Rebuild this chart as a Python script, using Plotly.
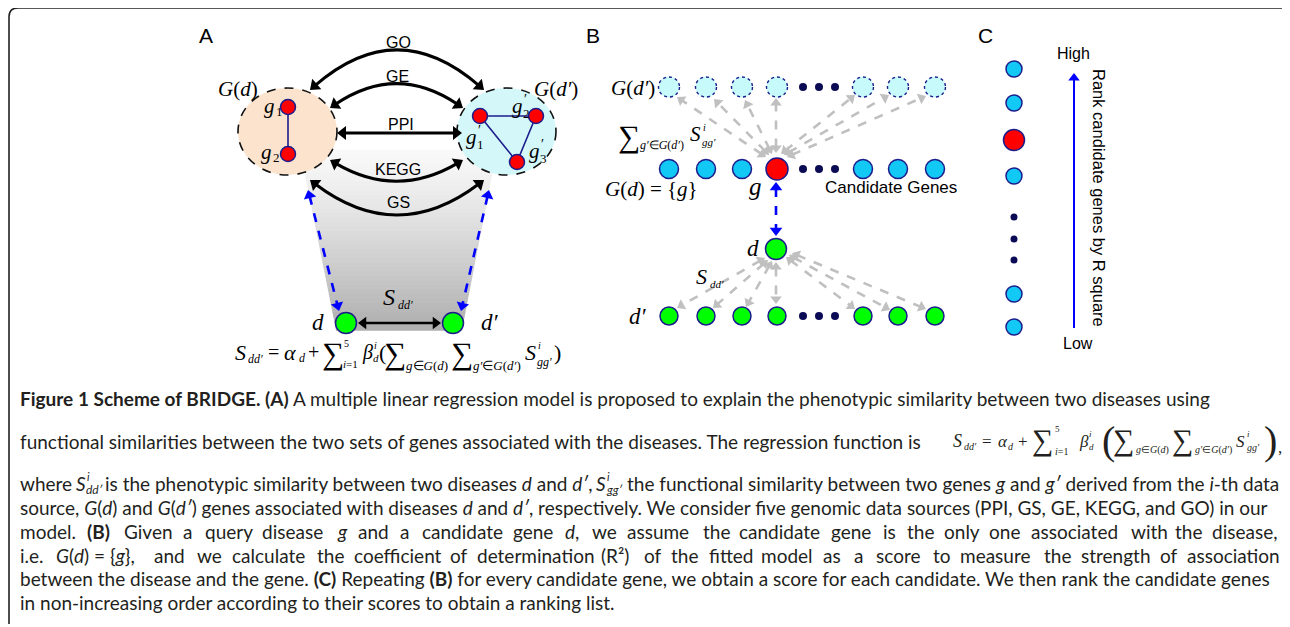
import math
import re
import plotly.graph_objects as go

# ---------------- content / data ----------------
panel_labels = ["A", "B", "C"]
data_sources = ["GO", "GE", "PPI", "KEGG", "GS"]
genes_d = ["1", "2"]          # g1, g2 in G(d)
genes_dp = ["1", "2", "3"]    # g'1, g'2, g'3 in G(d')
edges_d = [(0, 1)]
edges_dp = [(0, 1), (1, 2), (2, 0)]
# panel B: 7 drawn genes per row with a gap of three dots; index 3 of the middle row is the query gene g
row_kind = ["gene", "gene", "gene", "gene", "dot", "dot", "dot", "gene", "gene", "gene"]
query_index = 3
# panel C ranking list (top to bottom)
rank_kind = ["gene", "gene", "query", "gene", "dot", "dot", "dot", "gene", "gene"]
rank_ends = ["High", "Low"]
rank_title = "Rank candidate genes by R square"

cap_line1 = "<b>Figure 1 Scheme of BRIDGE. (A)</b> A multiple linear regression model is proposed to explain the phenotypic similarity between two diseases using"
cap_line2 = "functional similarities between the two sets of genes associated with the diseases. The regression function is"
cap_line3 = ["where", "is the phenotypic similarity between two diseases <i>d</i> and <i>d′</i>,",
             "the functional similarity between two genes <i>g</i> and <i>g′</i> derived from the <i>i</i>-th data"]
cap_line4 = "source, <i>G</i>(<i>d</i>) and <i>G</i>(<i>d′</i>) genes associated with diseases <i>d</i> and <i>d′</i>, respectively. We consider five genomic data sources (PPI, GS, GE, KEGG, and GO) in our"
cap_line5 = ["model.", "<b>(B)</b>", "Given", "a", "query", "disease", "<i>g</i>", "and", "a", "candidate", "gene",
             "<i>d</i>,", "we", "assume", "the", "candidate", "gene", "is", "the", "only", "one", "associated",
             "with", "the", "disease,"]
cap_line6 = ["i.e.", "<i>G</i>(<i>d</i>) = {<i>g</i>},", "and", "we", "calculate", "the", "coefficient", "of",
             "determination", "(R²)", "of", "the", "fitted", "model", "as", "a", "score", "to", "measure", "the",
             "strength", "of", "association"]
cap_line7 = "between the disease and the gene. <b>(C)</b> Repeating <b>(B)</b> for every candidate gene, we obtain a score for each candidate. We then rank the candidate genes"
cap_line8 = "in non-increasing order according to their scores to obtain a ranking list."

# ---------------- layout geometry (pixel space) ----------------
W, H = 1290, 627
OFF = 8  # page body margin compensation
SERIF = "Liberation Serif, Times New Roman, serif"
SANS = "Liberation Sans, Arial, sans-serif"
CAPF = "Lato, Liberation Sans, sans-serif"
CAPC = "#231f20"
NAVY = "#1c1c8c"
DOT = "#0a0a55"
RED = "#ff0000"
GREEN = "#00ff00"
CYAN = "#12c8f5"
LCYAN = "#c6fafb"
GRAY = "#c0c0c0"
BLUE = "#0000ff"

panel_label_pos = [(206, 35), (593, 35), (985, 35)]
arc_lx = [310, 330, 337, 330, 310]
arc_rx = [484, 463, 462, 463, 484]
arc_ey = [90, 108, 133, 160, 180]
arc_cy = [14, 63, 133, 199, 246]
arc_ly = [42, 76, 124, 169, 202]
ell_d = (238, 88, 337, 175)
ell_dp = (457, 88, 556, 175)
gd_xy = [(288, 107), (288, 154)]
gdp_xy = [(480, 116), (536, 116), (517, 162)]
gd_lab = [(262, 106), (259, 152)]
gdp_lab = [(464, 137), (510, 106), (527, 151)]
dnodes = [(346, 323), (453, 323)]
col_x = [669, 706, 742, 777, 803, 819, 835, 863, 898, 935]
row_y = [87, 169, 316]
d_B = (776, 249)
rank_x = 1014
rank_y = [69, 103, 140, 176, 217, 239, 260, 294, 327]

fig = go.Figure()
shapes = []
ann = []
heads = {}


def text(x, y, s, size=16, family=SANS, xanchor="center", yanchor="middle", color="black", angle=0):
    ann.append(dict(x=x, y=y, xref="x", yref="y", text=s, showarrow=False,
                    font=dict(size=size, family=family, color=color),
                    xanchor=xanchor, yanchor=yanchor, textangle=angle))


def head(tip, toward, color, size):
    dx, dy = tip[0] - toward[0], tip[1] - toward[1]
    n = math.hypot(dx, dy)
    ux, uy = dx / n, dy / n
    r = size / 2
    lst = heads.setdefault((color, size), ([], [], []))
    lst[0].append(tip[0] - ux * r)
    lst[1].append(tip[1] - uy * r)
    lst[2].append(math.degrees(math.atan2(ux, -uy)))
    return (tip[0] - ux * size * 0.55, tip[1] - uy * size * 0.55)


def line(p0, p1, color, width, dash="solid"):
    shapes.append(dict(type="line", xref="x", yref="y", x0=p0[0], y0=p0[1], x1=p1[0], y1=p1[1],
                       line=dict(color=color, width=width, dash=dash), layer="below"))


def double_arrow(p0, p1, color, width, dash="solid", size=11):
    a = head(p0, p1, color, size)
    b = head(p1, p0, color, size)
    line(a, b, color, width, dash)


# approximate relative glyph advances (per 1000 em) used to spread words of justified lines
AW = {' ': 278, 'f': 278, 'i': 222, 'j': 222, 'l': 222, 't': 278, 'r': 333, '.': 278, ',': 278,
      '(': 333, ')': 333, '{': 334, '}': 334, 'm': 833, 'w': 722, 'c': 500, 'k': 500, 's': 500,
      'v': 500, 'x': 500, 'y': 500, 'z': 500, '=': 584, 'B': 667, 'G': 778, 'R': 722, '²': 333}


def est(s):
    t = re.sub(r"<[^>]+>", "", s)
    w = sum(AW.get(ch, 556) for ch in t)
    return w * (1.06 if "<b>" in s else 1.0)


def justified(tokens, y, natural, x0=18, x1=1278, size=19):
    ests = [est(t) for t in tokens]
    total = sum(ests) + AW[' '] * (len(tokens) - 1)
    k = natural / total
    extra = ((x1 - x0) - natural) / (len(tokens) - 1)
    x = x0
    for t, e in zip(tokens, ests):
        text(x, y, t, size, CAPF, xanchor="left", color=CAPC)
        x += (e + AW[' ']) * k + extra


# ---------------- border ----------------
shapes.append(dict(type="path", xref="x", yref="y", path="M 9,624 L 9,17 Q 9,8 18,8 L 1296,8",
                   line=dict(color="#222222", width=1.6), layer="above"))

# ---------------- panel A ----------------
top_y, bot_y = 150, 330
tl, tr, bl, br = 300, 497, 336, 462
nb = 40
for i in range(nb):
    f0 = i / nb
    f1 = (i + 1) / nb
    y0 = top_y + (bot_y - top_y) * f0
    y1 = top_y + (bot_y - top_y) * f1 + 0.8
    f1e = min(f1 + 0.005, 1)
    x0l, x0r = tl + (bl - tl) * f0, tr + (br - tr) * f0
    x1l, x1r = tl + (bl - tl) * f1e, tr + (br - tr) * f1e
    fm = (f0 + f1) / 2
    g = int(250 - (250 - 174) * fm ** 1.2)
    shapes.append(dict(type="path", xref="x", yref="y", layer="below",
                       path=f"M {x0l},{y0} L {x0r},{y0} L {x1r},{y1} L {x1l},{y1} Z",
                       fillcolor=f"rgb({g},{g},{g})", line=dict(width=0)))

for (x0, y0, x1, y1), fc in [(ell_d, "#fbe3cd"), (ell_dp, "#d4f7f9")]:
    shapes.append(dict(type="circle", xref="x", yref="y", x0=x0, y0=y0, x1=x1, y1=y1,
                       fillcolor=fc, line=dict(color="#111111", width=1.6, dash="dash"), layer="below"))

for name, lx, rx, ey, cy, ly in zip(data_sources, arc_lx, arc_rx, arc_ey, arc_cy, arc_ly):
    cx = (lx + rx) / 2
    if cy == ey:
        double_arrow((lx, ey), (rx, ey), "black", 3, size=12)
    else:
        a = head((lx, ey), (cx, cy), "black", 12)
        b = head((rx, ey), (cx, cy), "black", 12)
        shapes.append(dict(type="path", xref="x", yref="y", layer="below",
                           path=f"M {a[0]},{a[1]} Q {cx},{cy} {b[0]},{b[1]}",
                           line=dict(color="black", width=3)))
    text(cx + 1, ly, name, size=16)

double_arrow((308, 190), (339, 311), BLUE, 2.6, dash="dash", size=11)
double_arrow((489, 190), (461, 311), BLUE, 2.6, dash="dash", size=11)
double_arrow((358, 323), (441, 323), "black", 2.6, size=11)

for xy, edges in [(gd_xy, edges_d), (gdp_xy, edges_dp)]:
    xs, ys = [], []
    for a, b in edges:
        xs += [xy[a][0], xy[b][0], None]
        ys += [xy[a][1], xy[b][1], None]
    fig.add_trace(go.Scatter(x=xs, y=ys, mode="lines", line=dict(color=NAVY, width=1.6),
                             hoverinfo="skip", showlegend=False))
allg = gd_xy + gdp_xy
fig.add_trace(go.Scatter(x=[p[0] for p in allg], y=[p[1] for p in allg], mode="markers",
                         marker=dict(size=15, color=RED, line=dict(color=NAVY, width=1.5)),
                         hoverinfo="skip", showlegend=False))
fig.add_trace(go.Scatter(x=[p[0] for p in dnodes], y=[p[1] for p in dnodes], mode="markers",
                         marker=dict(size=21, color=GREEN, line=dict(color=NAVY, width=1.5)),
                         hoverinfo="skip", showlegend=False))

text(238, 89, "<i>G</i>(<i>d</i>)", 21, SERIF)
text(556, 89, "<i>G</i>(<i>d′</i>)", 21, SERIF)
for (x, y), s in zip(gd_lab, genes_d):
    text(x, y, "<i>g</i>", 21, SERIF, xanchor="left")
    text(x + 12, y + 5, s, 13, SERIF, xanchor="left")
for (x, y), s in zip(gdp_lab, genes_dp):
    text(x, y, "<i>g</i>", 21, SERIF, xanchor="left")
    text(x + 12, y - 7, "′", 14, SERIF, xanchor="left")
    text(x + 11, y + 7, s, 13, SERIF, xanchor="left")
text(318, 322, "<i>d</i>", 23, SERIF)
text(490, 322, "<i>d′</i>", 23, SERIF)
text(389, 297, "<i>S</i>", 24, SERIF)
text(405, 305, "<i>dd′</i>", 12, SERIF)

formulaA = [
    (233, 352, "<i>S</i>", 22), (246, 359, "<i>dd′</i>", 12), (266, 352, "=", 20),
    (282, 352, "<i>α</i>", 22), (297, 358, "<i>d</i>", 12), (306, 352, "+", 20),
    (320, 353, "∑", 31), (342, 343, "5", 10), (341, 364, "<i>i</i>=1", 11),
    (360, 352, "<i>β</i>", 20), (372, 345, "<i>i</i>", 10), (371, 358, "<i>d</i>", 11),
    (377, 352, "(", 22), (382, 353, "∑", 31), (404, 365, "<i>g</i>∈<i>G</i>(<i>d</i>)", 13),
    (449, 353, "∑", 31), (471, 365, "<i>g′</i>∈<i>G</i>(<i>d′</i>)", 13),
    (523, 352, "<i>S</i>", 22), (536, 345, "<i>i</i>", 10), (535, 362, "<i>gg′</i>", 12),
    (552, 352, ")", 22),
]
for x, y, s, sz in formulaA:
    text(x, y, s, sz, SERIF, xanchor="left")

# ---------------- panel B ----------------
gene_cols = [x for x, k in zip(col_x, row_kind) if k == "gene"]
dot_cols = [x for x, k in zip(col_x, row_kind) if k == "dot"]

top_tips = [(677, 97), (714, 99), (745, 100), (776, 98), (855, 95), (889, 95), (926, 96)]
top_tails = [(766, 157), (769, 155), (772, 154), (776, 153), (781, 154), (784, 155), (787, 157)]
for t, s in zip(top_tips, top_tails):
    double_arrow(s, t, GRAY, 2.6, dash="dash", size=10)
bot_tips = [(677, 308), (713, 308), (746, 307), (776, 304), (855, 309), (890, 310), (926, 309)]
bot_tails = [(765, 258), (768, 260), (772, 261), (776, 262), (786, 257), (789, 255), (792, 253)]
for t, s in zip(bot_tips, bot_tails):
    double_arrow(s, t, GRAY, 2.6, dash="dash", size=10)
double_arrow((776, 182), (776, 236), BLUE, 2.6, dash="dash", size=11)

fig.add_trace(go.Scatter(x=gene_cols, y=[row_y[0]] * len(gene_cols), mode="markers",
                         marker=dict(size=21, color=LCYAN, line=dict(width=0)),
                         hoverinfo="skip", showlegend=False))
for x in gene_cols:
    shapes.append(dict(type="circle", xref="x", yref="y", x0=x - 10.5, x1=x + 10.5,
                       y0=row_y[0] - 10, y1=row_y[0] + 10, line=dict(color=NAVY, width=1.4, dash="dot"),
                       layer="above"))
mid_cols = [x for i, x in enumerate(gene_cols) if i != query_index]
fig.add_trace(go.Scatter(x=mid_cols, y=[row_y[1]] * len(mid_cols), mode="markers",
                         marker=dict(size=19, color=CYAN, line=dict(color=NAVY, width=1.5)),
                         hoverinfo="skip", showlegend=False))
fig.add_trace(go.Scatter(x=[gene_cols[query_index]], y=[row_y[1]], mode="markers",
                         marker=dict(size=22, color=RED, line=dict(color=NAVY, width=1.5)),
                         hoverinfo="skip", showlegend=False))
fig.add_trace(go.Scatter(x=gene_cols, y=[row_y[2]] * len(gene_cols), mode="markers",
                         marker=dict(size=18, color=GREEN, line=dict(color=NAVY, width=1.5)),
                         hoverinfo="skip", showlegend=False))
fig.add_trace(go.Scatter(x=[d_B[0]], y=[d_B[1]], mode="markers",
                         marker=dict(size=21, color=GREEN, line=dict(color=NAVY, width=1.5)),
                         hoverinfo="skip", showlegend=False))
fig.add_trace(go.Scatter(x=dot_cols * 3, y=[row_y[0]] * 3 + [row_y[1]] * 3 + [row_y[2]] * 3,
                         mode="markers", marker=dict(size=8, color=DOT),
                         hoverinfo="skip", showlegend=False))

text(633, 88, "<i>G</i>(<i>d′</i>)", 21, SERIF)
text(616, 136, "∑", 31, SERIF, xanchor="left")
text(638, 145, "<i>g′</i>∈<i>G</i>(<i>d′</i>)", 12, SERIF, xanchor="left")
text(688, 134, "<i>S</i>", 21, SERIF, xanchor="left")
text(701, 127, "<i>i</i>", 10, SERIF, xanchor="left")
text(700, 142, "<i>gg′</i>", 11, SERIF, xanchor="left")
text(651, 189, "<i>G</i>(<i>d</i>) = {<i>g</i>}", 21, SERIF)
text(755, 186, "<i>g</i>", 25, SERIF)
text(891, 187, "Candidate Genes", 17)
text(753, 248, "<i>d</i>", 23, SERIF)
text(638, 316, "<i>d′</i>", 23, SERIF)
text(701, 276, "<i>S</i>", 22, SERIF)
text(717, 284, "<i>dd′</i>", 11, SERIF)

# ---------------- panel C ----------------
for k, col, sz in [("gene", CYAN, 16), ("query", RED, 21), ("dot", DOT, 7)]:
    ys = [y for y, kk in zip(rank_y, rank_kind) if kk == k]
    fig.add_trace(go.Scatter(x=[rank_x] * len(ys), y=ys, mode="markers",
                             marker=dict(size=sz, color=col,
                                         line=dict(color=NAVY, width=1.5 if k != "dot" else 0)),
                             hoverinfo="skip", showlegend=False))
c_tip = (1074, 73)
c_end = head(c_tip, (1074, 328), BLUE, 10)
line((1074, 328), c_end, BLUE, 2)
text(1073, 53, rank_ends[0], 16)
text(1078, 343, rank_ends[1], 16)
text(1099, 198, rank_title, 16.5, angle=90)

for (x, y), s in zip(panel_label_pos, panel_labels):
    text(x, y, s, 21)

for (col, sz), (xs, ys, angs) in heads.items():
    fig.add_trace(go.Scatter(x=xs, y=ys, mode="markers",
                             marker=dict(symbol="triangle-up", size=sz, color=col, angle=angs,
                                         line=dict(width=0)),
                             hoverinfo="skip", showlegend=False))

# ---------------- caption ----------------
CS = 19
text(18, 398, cap_line1, CS, CAPF, xanchor="left", color=CAPC)
text(18, 441, cap_line2, CS, CAPF, xanchor="left", color=CAPC)
# line 3 with inline S^i terms
text(18, 483, cap_line3[0], CS, CAPF, xanchor="left", color=CAPC)
text(74, 483, "<i>S</i>", CS, CAPF, xanchor="left", color=CAPC)
text(85, 476, "<i>i</i>", 11, CAPF, xanchor="left", color=CAPC)
text(84, 489, "<i>dd′</i>", 12, CAPF, xanchor="left", color=CAPC)
text(103, 483, cap_line3[1], CS, CAPF, xanchor="left", color=CAPC)
text(594, 483, "<i>S</i>", CS, CAPF, xanchor="left", color=CAPC)
text(605, 476, "<i>i</i>", 11, CAPF, xanchor="left", color=CAPC)
text(604, 489, "<i>gg′</i>", 12, CAPF, xanchor="left", color=CAPC)
text(1281, 483, cap_line3[2], CS, CAPF, xanchor="right", color=CAPC)
text(18, 507, cap_line4, CS, CAPF, xanchor="left", color=CAPC)
justified(cap_line5, 531, 1110)
justified(cap_line6, 555, 1122)
text(18, 578, cap_line7, CS, CAPF, xanchor="left", color=CAPC)
text(18, 602, cap_line8, CS, CAPF, xanchor="left", color=CAPC)

formulaCap = [
    (951, 441, "<i>S</i>", 18), (962, 446, "<i>dd′</i>", 10), (980, 441, "=", 17),
    (996, 441, "<i>α</i>", 17), (1006, 446, "<i>d</i>", 10), (1016, 441, "+", 17),
    (1030, 440, "∑", 30), (1053, 429, "5", 9), (1053, 451, "<i>i</i>=1", 10),
    (1077, 441, "<i>β</i>", 17), (1087, 434, "<i>i</i>", 9), (1087, 447, "<i>d</i>", 9),
    (1100, 440, "(", 40), (1111, 440, "∑", 30), (1134, 450, "<i>g</i>∈<i>G</i>(<i>d</i>)", 10),
    (1170, 440, "∑", 30), (1193, 450, "<i>g′</i>∈<i>G</i>(<i>d′</i>)", 10),
    (1234, 441, "<i>S</i>", 17), (1245, 434, "<i>i</i>", 9), (1245, 447, "<i>gg′</i>", 10),
    (1262, 440, ")", 40), (1276, 447, ",", 17),
]
for x, y, s, sz in formulaCap:
    text(x, y, s, sz, SERIF, xanchor="left", color=CAPC)

fig.update_layout(
    width=W - OFF, height=H - OFF, autosize=False,
    margin=dict(l=0, r=0, t=0, b=0),
    paper_bgcolor="white", plot_bgcolor="white",
    xaxis=dict(range=[OFF, W], visible=False, fixedrange=True),
    yaxis=dict(range=[H, OFF], visible=False, fixedrange=True),
    shapes=shapes, annotations=ann, showlegend=False,
)
fig.write_html("out.html")
